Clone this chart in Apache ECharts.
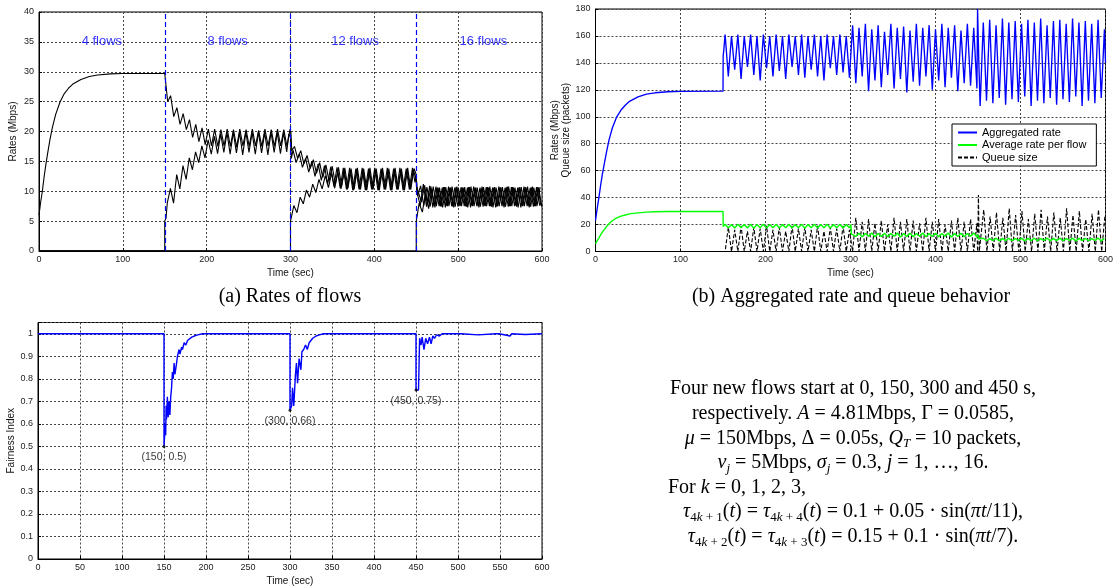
<!DOCTYPE html>
<html>
<head>
<meta charset="utf-8">
<script src="https://cdn.jsdelivr.net/npm/echarts@6/dist/echarts.min.js"></script>
<style>
  html, body { margin: 0; padding: 0; background: #fff; }
  #c { width: 1116px; height: 587px; }
</style>
</head>
<body>
<div id="c"></div>
<script>
// ---------------- data ----------------
// sampling step of the oscillating segments (s)
const STEP = 3.75;

// start-up transient, 0-150 s
const riseT    = [0, 2, 4, 6, 8, 10, 13, 16, 20, 25, 30, 35, 40, 50, 60, 70, 85, 100, 150];
const rateRise = [6, 8.2, 10, 12.3, 14.3, 16.1, 18.6, 20.7, 22.9, 24.9, 26.3, 27.2, 27.9, 28.7, 29.2, 29.45, 29.65, 29.7, 29.7];
const aggRise  = [23, 32, 40, 49, 57, 64, 74, 83, 92, 100, 105, 108.5, 111.5, 114.8, 116.8, 117.8, 118.6, 118.8, 119];
const avgRise  = [5.8, 8, 10, 12.3, 14.3, 16, 18.5, 20.7, 23, 25, 26.3, 27.1, 27.9, 28.7, 29.2, 29.45, 29.65, 29.7, 29.8];

// (a) flows 1-4
const a1Jump2 = [[152, 29.7], [153.5, 25]];
const a1Seg2 = [26, 22.5, 24, 21.2, 23, 20.3, 22, 19, 21.2, 18.3, 20.6, 17.8, 20.4, 17.6, 20.4, 17.5, 20.3, 17.6, 20.4, 17.5,
                20.3, 17.4, 20.4, 17.6, 20.3, 17.5, 20.4, 17.6, 20.2, 17.5, 20.4, 17.6, 20.3, 17.5, 20.4, 17.6, 20.3, 17.5, 20.4];
const a1Jump3 = [[300.5, 19.8], [301.5, 16.8]];
const a1Seg3 = [17.5, 15.5, 16.8, 14.6, 16, 13.8, 15.3, 13, 14.8, 12.3, 14.4, 11.7, 14.2, 11.2, 14, 10.8, 13.9, 10.5, 13.8, 10.4,
                13.9, 10.3, 13.8, 10.2, 13.9, 10.3, 13.8, 10.2, 13.9, 10.3, 13.8, 10.2, 13.9, 10.3, 13.8, 10.2, 13.9, 10.3, 13.8];
const a1Jump4 = [[449.5, 13], [451, 10.5]];
const a1Seg4 = [10.6, 8.2, 11, 7.8, 10.8, 7.6, 10.6, 7.5, 10.7, 7.6, 10.6, 7.4, 10.7, 7.6, 10.6, 7.5, 10.7, 7.6, 10.6, 7.5,
                10.5, 7.6, 10.7, 7.5, 10.6, 7.4, 10.7, 7.6, 10.6, 7.5, 10.7, 7.6, 10.6, 7.5, 10.7, 7.6, 10.6, 7.5, 10.7, 7.6];

// (a) flows 5-8
const a2Start = [[0, 0], [150, 0], [150, 5], [151.5, 5.5]];
const a2Seg2 = [8, 10.5, 8, 12.8, 10.4, 14.3, 12, 15.6, 13.6, 16.6, 14.8, 17.6, 15.6, 18.6, 16.2, 19.2, 16.3, 19.6, 16.5, 19.8,
                16.2, 19.9, 16.4, 19.8, 16.1, 19.9, 16.5, 19.8, 16.2, 19.9, 16.4, 19.8, 16.1, 19.9, 16.5, 19.8, 16.3, 19.8, 16.6];
const a2Jump3 = [[298, 19.6], [300, 19], [301, 15.5]];
const a2Seg3 = [16.9, 14.8, 16.3, 14, 15.5, 13.2, 15, 12.5, 14.6, 11.8, 14.3, 11.2, 14.1, 10.8, 14, 10.5, 13.9, 10.3, 13.9, 10.2,
                13.8, 10.3, 13.9, 10.2, 13.8, 10.3, 13.9, 10.2, 13.8, 10.3, 13.9, 10.2, 13.8, 10.3, 13.9, 10.2, 13.8, 10.3, 13.9];
const a2Jump4 = [[448.5, 11.5], [450, 12.5]];
const a2Seg4 = [9.8, 7.6, 11.2, 7.4, 10.9, 7.3, 10.8, 7.5, 10.6, 7.3, 10.8, 7.5, 10.6, 7.4, 10.7, 7.5, 10.6, 7.3, 10.8, 7.5,
                10.6, 7.4, 10.7, 7.5, 10.6, 7.3, 10.8, 7.5, 10.6, 7.4, 10.7, 7.5, 10.6, 7.3, 10.8, 7.5, 10.6, 7.4, 10.7, 7.6];

// (a) flows 9-12
const a3Start = [[0, 0], [300, 0], [300, 5], [302, 5.3]];
const a3Seg3 = [7.6, 6.4, 9, 7.9, 10.2, 9, 11.2, 9.8, 12, 10.4, 12.6, 10.6, 13, 10.5, 13.3, 10.4, 13.5, 10.3, 13.6, 10.2,
                13.7, 10.3, 13.6, 10.2, 13.7, 10.3, 13.6, 10.2, 13.7, 10.3, 13.6, 10.2, 13.7, 10.3, 13.6, 10.2, 13.7, 10.3, 13.6];
const a3Jump4 = [[449.5, 12.2]];
const a3Seg4 = [9.2, 10.9, 7.6, 10.7, 7.4, 10.8, 7.5, 10.6, 7.3, 10.7, 7.5, 10.8, 7.4, 10.6, 7.5, 10.7, 7.3, 10.8, 7.5, 10.6,
                7.4, 10.7, 7.5, 10.8, 7.3, 10.6, 7.5, 10.7, 7.4, 10.8, 7.5, 10.6, 7.3, 10.7, 7.5, 10.8, 7.4, 10.6, 7.5, 10.7];

// (a) flows 13-16
const a4Start = [[0, 0], [450, 0], [450, 5], [451.5, 5.2]];
const a4Seg4 = [8, 6.5, 9.6, 7.1, 10.3, 7.3, 10.6, 7.4, 10.7, 7.5, 10.6, 7.3, 10.8, 7.5, 10.6, 7.4, 10.7, 7.5, 10.6, 7.3,
                10.8, 7.5, 10.6, 7.4, 10.7, 7.5, 10.6, 7.3, 10.8, 7.5, 10.6, 7.4, 10.7, 7.5, 10.6, 7.3, 10.8, 7.5, 10.6, 7.4];

// phase labels of (a)
const flowLabels = ['4 flows', '8 flows', '12 flows', '16 flows'];
const flowLabelT = [75, 225, 377, 530];
const flowLabelY = 35;
const flowStarts = [150, 300, 450];

// (b) aggregated rate
const aggJump2 = [[150.2, 145], [151, 150]];
const aggSeg2 = [161, 130, 160, 135, 161, 128, 160, 137, 161, 131, 160, 127, 161, 136, 160, 130, 161, 134, 160, 128,
                 161, 137, 160, 131, 161, 129, 160, 135, 161, 130, 160, 127, 161, 136, 160, 131, 161, 133, 160, 129];
const aggSeg3 = [168, 125, 166, 130, 169, 119, 165, 127, 168, 122, 163, 131, 169, 121, 166, 128, 167, 118, 164, 126,
                 169, 123, 166, 130, 168, 120, 165, 127, 169, 122, 166, 129, 168, 119, 164, 125, 169, 123, 166, 121];
const aggJump4 = [[449.5, 180], [451, 140]];
const aggSeg4 = [108, 170, 112, 172, 110, 168, 114, 173, 109, 170, 113, 171, 111, 169, 115, 172, 108, 170, 112, 173,
                 110, 168, 114, 171, 109, 172, 113, 169, 111, 173, 115, 170, 108, 171, 112, 169, 110, 172, 114, 165];
const aggEnd = [[600, 140]];

// (b) average rate per flow
const avgJump2 = [[150.3, 18.5]];
const avgSeg2 = [20.2, 17.6, 20.1, 17.4, 20.2, 17.6, 20, 17.5, 20.2, 17.3, 20.1, 17.6, 20.2, 17.5, 20, 17.6, 20.2, 17.4, 20.1, 17.6,
                 20.2, 17.5, 20, 17.6, 20.2, 17.3, 20.1, 17.6, 20.2, 17.5, 20, 17.6, 20.2, 17.4, 20.1, 17.6, 20.2, 17.5, 20.1, 17.6];
const avgJump3 = [[300.5, 20], [301, 13]];
const avgSeg3 = [13.4, 11.2, 13.6, 11, 13.3, 11.3, 13.7, 10.9, 13.4, 11.2, 13.6, 11, 13.3, 11.3, 13.7, 10.8, 13.4, 11.2, 13.6, 11,
                 13.3, 11.3, 13.7, 10.9, 13.4, 11.2, 13.6, 11, 13.3, 11.3, 13.7, 10.8, 13.4, 11.2, 13.6, 11, 13.3, 11.3, 13.7, 11];
const avgJump4 = [[450, 12.5], [450.5, 9.5]];
const avgSeg4 = [8.1, 9.8, 8, 9.6, 8.2, 9.9, 7.9, 9.7, 8.1, 9.8, 8, 9.6, 8.2, 9.9, 7.9, 9.7, 8.1, 9.8, 8, 9.6,
                 8.2, 9.9, 7.9, 9.7, 8.1, 9.8, 8, 9.6, 8.2, 9.9, 7.9, 9.7, 8.1, 9.8, 8, 9.6, 8.2, 9.9, 7.9, 9.7];

// (b) queue size
const qStart = [[0, 0], [150, 0]];
const qSeg2 = [0, 18, 0, 16, 0, 19, 0, 15, 0, 18, 0, 17, 0, 19, 0, 16, 0, 18, 0, 15,
               0, 19, 0, 17, 0, 18, 0, 16, 0, 19, 0, 15, 0, 18, 0, 17, 0, 19, 0, 16];
const qSeg3 = [0, 25, 0, 22, 0, 24, 0, 21, 0, 23, 0, 20, 0, 25, 0, 22, 0, 24, 0, 23,
               0, 21, 0, 25, 0, 22, 0, 24, 0, 20, 0, 23, 0, 25, 0, 22, 0, 24, 0, 21];
const qJump4 = [[449.5, 0], [450.5, 42], [451.5, 0]];
const qSeg4 = [0, 31, 0, 26, 0, 29, 0, 25, 0, 32, 0, 27, 0, 30, 0, 24, 0, 28, 0, 31,
               0, 26, 0, 29, 0, 25, 0, 32, 0, 27, 0, 30, 0, 24, 0, 28, 0, 31, 0, 26];

// (c) fairness index
const fairT = [0, 150, 150, 151, 151.5, 152, 152.5, 153, 154, 155, 156, 157, 158, 159, 160, 161, 162, 163, 165, 166, 168, 169,
               171, 172, 174, 176, 178, 180, 183, 186, 190, 196,
               300, 300, 301, 302, 303, 304.5, 306.5, 307.7, 309, 310.8, 313, 314.2, 316.3, 318.5, 320.6, 322.8, 325, 327,
               331, 335, 340,
               450, 450, 453, 454.3, 456, 457.3, 459.5, 461.6, 463.8, 466, 468, 470, 472, 474.5, 478, 481, 500, 502, 504,
               524, 526, 545, 547, 549, 562, 564, 580, 582, 600];
const fairV = [1, 1, 0.5, 0.5, 0.6, 0.55, 0.68, 0.62, 0.72, 0.63, 0.7, 0.64, 0.72, 0.76, 0.83, 0.8, 0.87, 0.82, 0.87, 0.9, 0.93, 0.91,
               0.94, 0.93, 0.96, 0.95, 0.97, 0.975, 0.985, 0.99, 0.995, 1,
               1, 0.66, 0.66, 0.68, 0.76, 0.68, 0.82, 0.87, 0.78, 0.89, 0.84, 0.92, 0.93, 0.95, 0.93, 0.96, 0.965, 0.98,
               0.99, 0.995, 1,
               1, 0.75, 0.75, 0.98, 0.95, 0.985, 0.93, 0.98, 0.955, 0.985, 0.955, 0.99, 0.98, 0.995, 0.99, 1, 1, 0.997, 1,
               0.995, 1, 1, 0.997, 1, 0.99, 1, 0.997, 1, 1];
const noteT = [150, 300, 450];
const noteV = [0.5, 0.66, 0.75];

// ---------------- helpers ----------------
function run(t0, vals) { return vals.map((v, i) => [t0 + i * STEP, v]); }
function zip(ts, vs) { return ts.map((t, i) => [t, vs[i]]); }

const flows1 = [].concat(zip(riseT, rateRise), a1Jump2, run(157, a1Seg2), a1Jump3, run(304.75, a1Seg3),
                         a1Jump4, run(452.5, a1Seg4));
const flows2 = [].concat(a2Start, run(153, a2Seg2), a2Jump3, run(303, a2Seg3), a2Jump4, run(451, a2Seg4));
const flows3 = [].concat(a3Start, run(304, a3Seg3), a3Jump4, run(451.5, a3Seg4));
const flows4 = [].concat(a4Start, run(453.5, a4Seg4));

const aggData = [].concat(zip(riseT, aggRise), aggJump2, run(152.5, aggSeg2), run(302.5, aggSeg3),
                          aggJump4, run(452.5, aggSeg4), aggEnd);
const avgData = [].concat(zip(riseT, avgRise), avgJump2, run(152.5, avgSeg2), avgJump3, run(302.5, avgSeg3),
                          avgJump4, run(452.5, avgSeg4));
const queueData = [].concat(qStart, run(152.5, qSeg2), run(302.5, qSeg3), qJump4, run(453, qSeg4));
const fairData = zip(fairT, fairV);

// ---------------- styling ----------------
const SANS = '"Liberation Sans", Arial, sans-serif';
const SERIF = '"Liberation Serif", "Times New Roman", serif';
const BLUE = '#0000ff';

function xAx(gridIndex, interval) {
  return {
    type: 'value', gridIndex, min: 0, max: 600, interval,
    name: 'Time (sec)', nameLocation: 'middle', nameGap: 17,
    nameTextStyle: { fontFamily: SANS, fontSize: 10, color: '#111' },
    axisLine: { show: true, onZero: false, lineStyle: { color: '#000', width: 1 } },
    axisTick: { show: true, inside: true, length: 3, lineStyle: { color: '#000' } },
    axisLabel: { fontFamily: SANS, fontSize: 9, color: '#222', margin: 4 },
    splitLine: { show: true, lineStyle: { color: '#444', type: [2, 2], width: 1 } }
  };
}
function yAx(gridIndex, max, interval, name, nameGap, fmt) {
  return {
    type: 'value', gridIndex, min: 0, max, interval,
    name, nameLocation: 'middle', nameGap, nameRotate: 90,
    nameTextStyle: { fontFamily: SANS, fontSize: 10, color: '#111', lineHeight: 11 },
    axisLine: { show: true, lineStyle: { color: '#000', width: 1 } },
    axisTick: { show: true, inside: true, length: 3, lineStyle: { color: '#000' } },
    axisLabel: { fontFamily: SANS, fontSize: 9, color: '#222', margin: 5, formatter: fmt },
    splitLine: { show: true, lineStyle: { color: '#444', type: [2, 2], width: 1 } }
  };
}
function blackLine(name, data) {
  return {
    name, type: 'line', xAxisIndex: 0, yAxisIndex: 0, data, symbol: 'none',
    lineStyle: { color: '#000', width: 1.1 }, z: 3
  };
}

// paragraph lines beside panel (c)
const para = [
  { y: 389, text: '{n|Four new flows start at 0, 150, 300 and 450 s,}' },
  { y: 414, text: '{n|respectively. }{i|A}{n| = 4.81Mbps, Γ = 0.0585,}' },
  { y: 438.5, text: '{i|μ}{n| = 150Mbps, Δ = 0.05s, }{i|Q}{si|T}{n| = 10 packets,}' },
  { y: 463, text: '{i|v}{si|j}{n| = 5Mbps, }{i|σ}{si|j}{n| = 0.3, }{i|j}{n| = 1, …, 16.}' },
  { y: 487.5, text: '{n|For }{i|k}{n| = 0, 1, 2, 3,}', left: true },
  { y: 512, text: '{i|τ}{s|4}{si|k}{s| + 1}{n|(}{i|t}{n|) = }{i|τ}{s|4}{si|k}{s| + 4}{n|(}{i|t}{n|) = 0.1 + 0.05 · sin(}{i|πt}{n|/11),}' },
  { y: 537, text: '{i|τ}{s|4}{si|k}{s| + 2}{n|(}{i|t}{n|) = }{i|τ}{s|4}{si|k}{s| + 3}{n|(}{i|t}{n|) = 0.15 + 0.1 · sin(}{i|πt}{n|/7).}' }
];
const rich = {
  n:  { fontFamily: SERIF, fontSize: 20, lineHeight: 24, fill: '#000', color: '#000' },
  i:  { fontFamily: SERIF, fontSize: 20, lineHeight: 24, fontStyle: 'italic', fill: '#000', color: '#000' },
  s:  { fontFamily: SERIF, fontSize: 13, lineHeight: 12, verticalAlign: 'bottom', fill: '#000', color: '#000' },
  si: { fontFamily: SERIF, fontSize: 13, lineHeight: 12, verticalAlign: 'bottom', fontStyle: 'italic', fill: '#000', color: '#000' }
};

const graphic = [
  { type: 'text', x: 290, y: 297, style: { text: '(a) Rates of flows', font: '20px ' + SERIF, fill: '#000', align: 'center', verticalAlign: 'middle' } },
  { type: 'text', x: 851, y: 297, style: { text: '(b) Aggregated rate and queue behavior', font: '20px ' + SERIF, fill: '#000', align: 'center', verticalAlign: 'middle' } }
].concat(para.map(p => ({
  type: 'text', x: p.left ? 668 : 853, y: p.y,
  style: { text: p.text, rich, align: p.left ? 'left' : 'center', verticalAlign: 'middle', fill: '#000' }
})));

const option = {
  animation: false,
  backgroundColor: '#fff',
  grid: [
    { left: 39, top: 12, width: 503, height: 239, show: true, borderColor: '#000', borderWidth: 1, backgroundColor: 'transparent' },
    { left: 595.5, top: 9, width: 511, height: 242.5, show: true, borderColor: '#000', borderWidth: 1, backgroundColor: 'transparent' },
    { left: 38, top: 322.5, width: 504, height: 238.5, show: true, borderColor: '#000', borderWidth: 1, backgroundColor: 'transparent' }
  ],
  xAxis: [xAx(0, 100), xAx(1, 100), xAx(2, 50)],
  yAxis: [
    yAx(0, 40, 5, 'Rates (Mbps)', 20),
    yAx(1, 180, 20, 'Rates (Mbps)\nQueue size (packets)', 20),
    yAx(2, 1.05, 0.1, 'Fairness Index', 20, v => {
      const k = Math.round(v * 10);
      return Math.abs(v * 10 - k) < 1e-6 ? String(k / 10) : '';
    })
  ],
  legend: {
    data: ['Aggregated rate', 'Average rate per flow', 'Queue size'],
    orient: 'vertical', left: 952, top: 124,
    itemWidth: 19, itemHeight: 10, itemGap: 1.5,
    padding: [3, 10, 3, 5],
    backgroundColor: '#fff', borderColor: '#000', borderWidth: 1,
    itemStyle: { color: 'transparent', borderColor: 'transparent', borderWidth: 0, opacity: 0 },
    textStyle: { fontFamily: SANS, fontSize: 11, color: '#000' }
  },
  graphic,
  series: [
    Object.assign(blackLine('flows 1-4', flows1), {
      markLine: {
        silent: true, symbol: 'none', label: { show: false },
        lineStyle: { color: BLUE, type: [5, 3], width: 1.2 },
        data: flowStarts.map(t => ({ xAxis: t }))
      }
    }),
    blackLine('flows 5-8', flows2),
    blackLine('flows 9-12', flows3),
    blackLine('flows 13-16', flows4),
    {
      name: 'phase', type: 'scatter', xAxisIndex: 0, yAxisIndex: 0, symbolSize: 0, silent: true,
      data: flowLabelT.map((t, i) => ({ value: [t, flowLabelY], name: flowLabels[i] })),
      label: { show: true, position: 'inside', formatter: p => p.name, color: BLUE, fontFamily: SANS, fontSize: 13 },
      z: 5
    },
    {
      name: 'Queue size', type: 'line', xAxisIndex: 1, yAxisIndex: 1, data: queueData, symbol: 'none',
      lineStyle: { color: '#000', width: 1.1, type: [4, 2] }, itemStyle: { color: '#000' }, z: 2
    },
    {
      name: 'Average rate per flow', type: 'line', xAxisIndex: 1, yAxisIndex: 1, data: avgData, symbol: 'none',
      lineStyle: { color: '#00ff00', width: 1.4 }, itemStyle: { color: '#00ff00' }, z: 3
    },
    {
      name: 'Aggregated rate', type: 'line', xAxisIndex: 1, yAxisIndex: 1, data: aggData, symbol: 'none',
      lineStyle: { color: BLUE, width: 1.35 }, itemStyle: { color: BLUE }, z: 4
    },
    {
      name: 'Fairness', type: 'line', xAxisIndex: 2, yAxisIndex: 2, data: fairData, symbol: 'none',
      lineStyle: { color: BLUE, width: 1.4 }, z: 3
    },
    {
      name: 'notes', type: 'scatter', xAxisIndex: 2, yAxisIndex: 2, symbol: 'circle', symbolSize: 3,
      itemStyle: { color: '#000' }, silent: true,
      data: noteT.map((t, i) => [t, noteV[i]]),
      label: {
        show: true, position: 'bottom', distance: 4,
        formatter: p => '(' + p.value[0] + ', ' + p.value[1] + ')',
        fontFamily: SANS, fontSize: 10.5, color: '#000'
      },
      z: 5
    }
  ]
};

const chart = echarts.init(document.getElementById('c'));
chart.setOption(option);
</script>
</body>
</html>
